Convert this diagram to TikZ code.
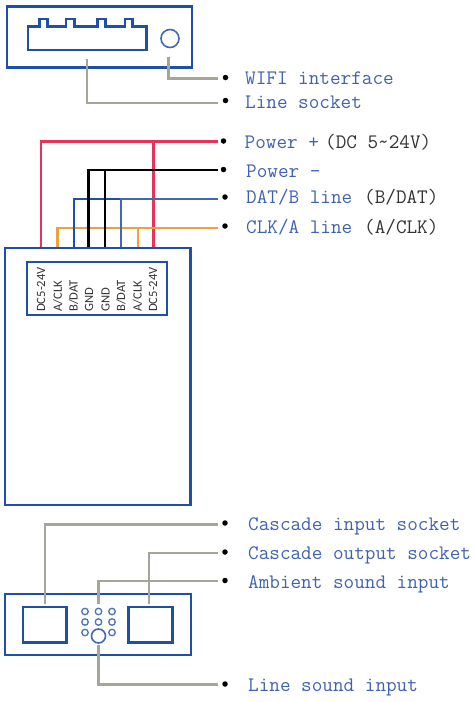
\documentclass[tikz,border=0pt]{standalone}
\usepackage{fontspec}
\newfontfamily\pinfont{Carlito}
\definecolor{boxblue}{HTML}{1F4FA6}
\definecolor{textblue}{HTML}{3F62B0}
\definecolor{textdark}{HTML}{333333}
\definecolor{wgrey}{HTML}{A6A698}
\definecolor{wred}{HTML}{E8325C}
\definecolor{worange}{HTML}{EBA23F}
\tikzset{
  panel/.style={draw=boxblue,line width=2.5pt,anchor=north west,inner sep=0pt,outer sep=0pt},
  smallring/.style={circle,draw=boxblue!80!white,line width=1.3pt,minimum size=6.5pt,inner sep=0pt},
  bigring/.style={circle,draw=boxblue!85!white,line width=1.6pt,inner sep=0pt},
  wire/.style={line width=2.5pt,line join=miter},
  greywire/.style={wire,draw=wgrey},
  bullet/.style={circle,fill=black,inner sep=0pt,minimum size=5.5pt},
  lbl/.style={anchor=base west,inner sep=0pt,text=textblue,font=\ttfamily\fontsize{20.6}{24}\selectfont},
  note/.style={lbl,text=textdark},
  pin/.style={rotate=90,anchor=west,inner sep=0pt,text=black!80,font=\pinfont\fontsize{12.6}{14}\selectfont},
}
\begin{document}
\begin{tikzpicture}[x=1pt,y=-1pt]
\useasboundingbox (0,0) rectangle (474,702);
% top unit
\node[panel,minimum width=185pt,minimum height=61pt] (topbox) at (7,6.5) {};
\draw[boxblue,line width=2.2pt] (28,50) -- (28,26.5) -- (39.5,26.5) -- (39.5,19) -- (47.5,19) -- (47.5,26.5)
  -- (66,26.5) -- (66,19) -- (74.5,19) -- (74.5,26.5) -- (97.5,26.5) -- (97.5,19) -- (105.5,19) -- (105.5,26.5)
  -- (125,26.5) -- (125,19) -- (132.5,19) -- (132.5,26.5) -- (146.5,26.5) -- (146.5,50) -- cycle;
\node[bigring,minimum size=18pt] (wifiport) at (170,38.5) {};
\coordinate (wifistart) at (168.5,56.5);
\coordinate (linestart) at (87,58.5);
\node[bullet] (d1) at (225.5,77.5) {};
\node[bullet] (d2) at (225.5,100.5) {};
\coordinate (e1) at (218,78.5);
\coordinate (e2) at (218,103);
\draw[greywire] (wifistart) |- (e1);
\draw[greywire] (linestart) |- (e2);
\node[lbl] (t1) at (245,84) {WIFI interface};
\node[lbl] (t2) at (245,108) {Line socket};
% middle unit
\node[panel,minimum width=185.5pt,minimum height=257pt] (mainbox) at (5,248) {};
\node[panel,minimum width=140pt,minimum height=53pt] (pinbox) at (27,262) {};
\coordinate (p1) at (41,247);
\coordinate (p2) at (57.7,247);
\coordinate (p3) at (74,247);
\coordinate (p4) at (88.7,247);
\coordinate (p5) at (105,247);
\coordinate (p6) at (121,247);
\coordinate (p7) at (138,247);
\coordinate (p8) at (153.5,247);
\coordinate (er) at (218,141.5);
\coordinate (ek) at (218,170);
\coordinate (eb) at (218,199);
\coordinate (eo) at (218,228);
\draw[wire,wred] (p1) |- (er);
\draw[wire,wred] (p8) |- (er);
\draw[wire,worange] (p2) |- (eo);
\draw[wire,worange] (p7) |- (eo);
\draw[wire,boxblue] (p3) |- (eb);
\draw[wire,boxblue!85!white] (p6) |- (eb);
\draw[wire,black] (p4) |- (ek);
\draw[wire,black] (p5) |- (ek);
\node[bullet] (d3) at (223.5,141) {};
\node[bullet] (d4) at (223.5,169.5) {};
\node[bullet] (d5) at (225,197) {};
\node[bullet] (d6) at (225,226) {};
\node[pin] (n1) at (41,312) {DC5-24V};
\node[pin] (n2) at (57.7,312) {A/CLK};
\node[pin] (n3) at (73.5,312) {B/DAT};
\node[pin] (n4) at (89,312) {GND};
\node[pin] (n5) at (105.5,312) {GND};
\node[pin] (n6) at (121,312) {B/DAT};
\node[pin] (n7) at (137.5,312) {A/CLK};
\node[pin] (n8) at (153,312) {DC5-24V};
\node[lbl] (t3) at (244.5,148) {Power +};
\node[note] (t3b) at (325,148) {(DC 5\textasciitilde24V)};
\node[lbl] (t4) at (246,177) {Power -};
\node[lbl] (t5) at (246,203) {DAT/B line};
\node[note] (t5b) at (364,203) {(B/DAT)};
\node[lbl] (t6) at (246,233) {CLK/A line};
\node[note] (t6b) at (364,233) {(A/CLK)};
% bottom unit
\node[panel,minimum width=186pt,minimum height=61pt] (botbox) at (5,594) {};
\node[panel,minimum width=43.5pt,minimum height=35.5pt] (inbox) at (23,607) {};
\node[panel,minimum width=44pt,minimum height=35.5pt] (outbox) at (128.5,607) {};
\foreach \n/\x/\y in {a/85/611.5,b/98.5/611.5,c/112/611.5,d/85/622,e/98.5/622,f/112/622,g/85/632.5,h/112/632.5}
  \node[smallring] (r\n) at (\x,\y) {};
\node[bigring,minimum size=14pt] (linein) at (98.5,636) {};
\coordinate (s1) at (45,604);
\coordinate (s2) at (149,604);
\coordinate (s3) at (98.5,604);
\coordinate (s4) at (98.5,645);
\coordinate (e3) at (218,524.5);
\coordinate (e4) at (218,553);
\coordinate (e5) at (218,581);
\coordinate (e6) at (218,684.5);
\draw[greywire] (s1) |- (e3);
\draw[greywire] (s2) |- (e4);
\draw[greywire] (s3) |- (e5);
\draw[greywire] (s4) |- (e6);
\node[bullet] (d7) at (225,523) {};
\node[bullet] (d8) at (225,552) {};
\node[bullet] (d9) at (225,580.5) {};
\node[bullet] (d10) at (225,684) {};
\node[lbl] (t7) at (248,530) {Cascade input socket};
\node[lbl] (t8) at (248,559.5) {Cascade output socket};
\node[lbl] (t9) at (248,588) {Ambient sound input};
\node[lbl] (t10) at (248,691.5) {Line sound input};
\end{tikzpicture}
\end{document}
